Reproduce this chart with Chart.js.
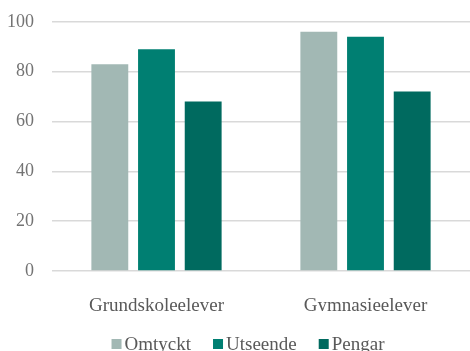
<!DOCTYPE html>
<html>
<head>
<meta charset="utf-8">
<script src="https://cdn.jsdelivr.net/npm/chart.js@4"></script>
<style>
  html, body { margin: 0; padding: 0; background: #fff; overflow: hidden; }
  #wrap { position: relative; width: 470px; height: 358px; margin-top: -7px; }
</style>
</head>
<body>
<div id="wrap"><canvas id="chart"></canvas></div>
<script>
const categories = ['Grundskoleelever', 'Gymnasieelever'];
const omtyckt = [83, 96];
const utseende = [89, 94];
const pengar = [68, 72];
const yTicks = [0, 20, 40, 60, 80, 100];

const serif = "'Liberation Serif', 'DejaVu Serif', serif";
const gridColor = '#d9d9d9';

// legend row under the axis: small square, tight gap, text
const legendRow = {
  id: 'legendRow',
  afterDraw(chart) {
    const ctx = chart.ctx;
    const box = 10, textGap = 3, itemGap = 22;
    ctx.save();
    ctx.font = '19px ' + serif;
    ctx.textBaseline = 'middle';
    const items = chart.data.datasets.map((ds) => ({
      text: ds.label,
      color: ds.backgroundColor,
      w: ctx.measureText(ds.label).width,
    }));
    const total = items.reduce((s, it) => s + box + textGap + it.w, 0) + itemGap * (items.length - 1);
    let x = 248 - total / 2;
    const y = chart.height - 6;
    items.forEach((it) => {
      ctx.fillStyle = it.color;
      ctx.fillRect(x, y - box / 2 - 1, box, box);
      x += box + textGap;
      ctx.fillStyle = '#595959';
      ctx.fillText(it.text, x, y);
      x += it.w + itemGap;
    });
    ctx.restore();
  },
};

function draw() {
  new Chart(document.getElementById('chart'), {
    type: 'bar',
    data: {
      labels: categories,
      datasets: [
        { label: 'Omtyckt', data: omtyckt, backgroundColor: '#a2b8b4' },
        { label: 'Utseende', data: utseende, backgroundColor: '#007f72' },
        { label: 'Pengar', data: pengar, backgroundColor: '#006a5f' },
      ],
    },
    options: {
      responsive: true,
      maintainAspectRatio: false,
      animation: false,
      layout: { padding: { top: 0, right: 0, left: 0, bottom: 40 } },
      datasets: {
        bar: { categoryPercentage: 0.67, barPercentage: 0.79 },
      },
      plugins: {
        tooltip: { enabled: false },
        legend: { display: false },
      },
      scales: {
        x: {
          grid: { display: false, drawTicks: false },
          border: { display: false },
          ticks: {
            color: '#595959',
            font: { family: serif, size: 19 },
            padding: 24,
          },
          afterFit: (axis) => { axis.height = 40; },
        },
        y: {
          min: 0,
          max: 100,
          afterBuildTicks: (axis) => { axis.ticks = yTicks.map((v) => ({ value: v })); },
          grid: { color: gridColor, lineWidth: 1.5, drawTicks: false },
          border: { display: false },
          ticks: {
            color: '#737373',
            font: { family: serif, size: 18 },
            padding: 18,
          },
          afterFit: (axis) => { axis.width = 52; },
        },
      },
    },
    plugins: [legendRow],
  });
}

document.fonts.load('18px "Liberation Serif"').then(draw, draw);
</script>
</body>
</html>
